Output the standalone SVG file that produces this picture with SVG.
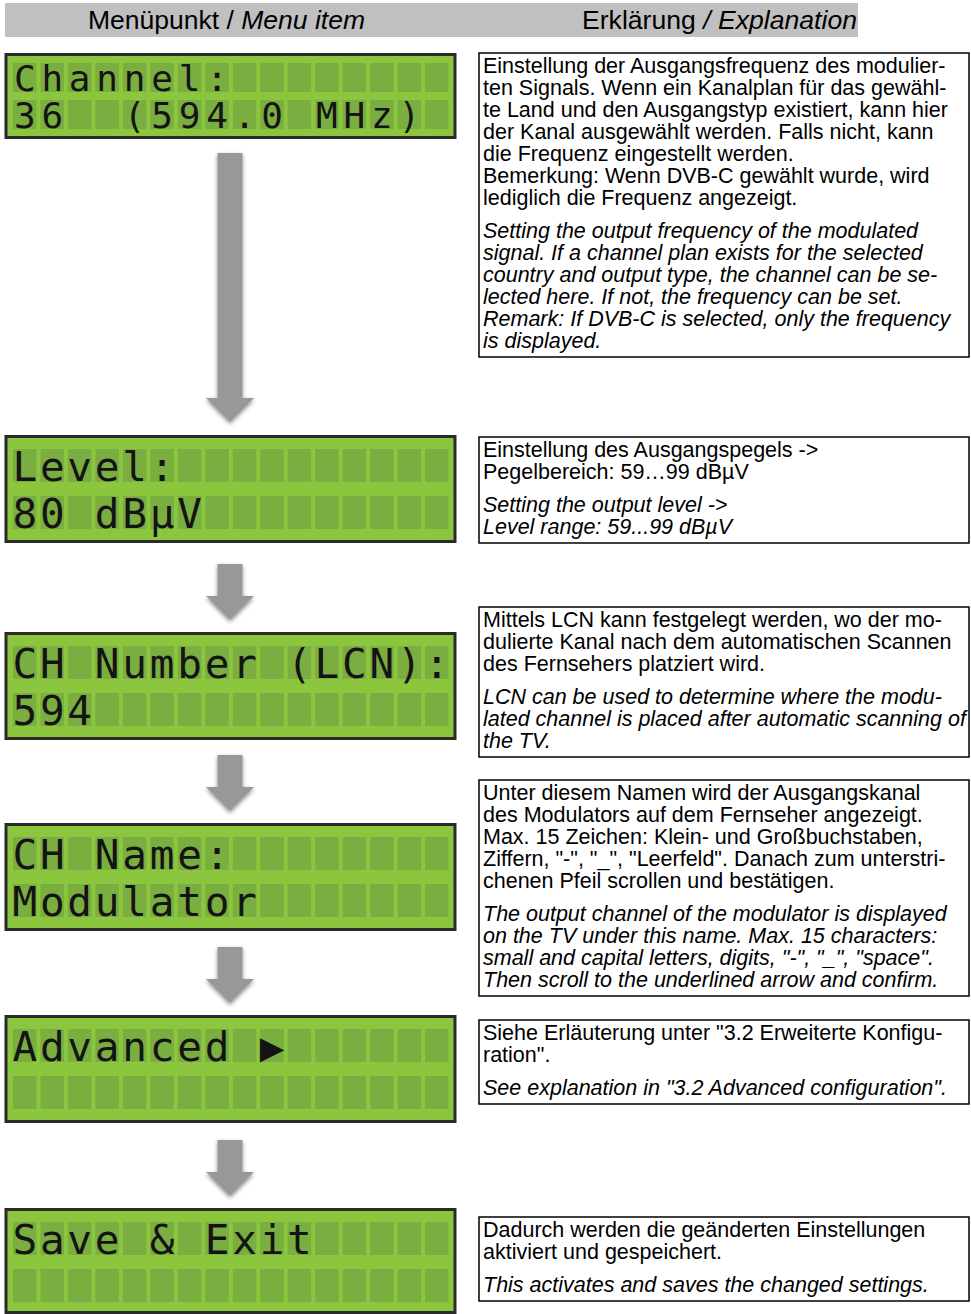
<svg xmlns="http://www.w3.org/2000/svg" xmlns:xlink="http://www.w3.org/1999/xlink" width="971" height="1314" viewBox="0 0 971 1314">
<style>
.hdr{font-family:"Liberation Sans",Arial,sans-serif;font-size:25px;fill:#000}
.t{font-family:"Liberation Sans",Arial,sans-serif;font-size:21.5px;fill:#000}
.i{font-style:italic}
.box{fill:#fff;stroke:#000;stroke-width:1.5}
.lcd{fill:#8cc63f;stroke:#2a2a2a;stroke-width:3}
.cell{fill:#7bae41}
.lt{font-family:"DejaVu Sans Mono",monospace;fill:#141414;text-anchor:middle}
.s1{font-size:36px}
.s2{font-size:41px}
.arr{fill:#989898;filter:url(#sh)}
</style>
<defs>
<filter id="sh" x="-30%" y="-10%" width="160%" height="130%">
<feGaussianBlur in="SourceAlpha" stdDeviation="2"/>
<feOffset dy="2" result="b"/>
<feComponentTransfer><feFuncA type="linear" slope="0.45"/></feComponentTransfer>
<feMerge><feMergeNode/><feMergeNode in="SourceGraphic"/></feMerge>
</filter>
<g id="row29" class="cell">
<rect x="13" width="23.5" height="29"/><rect x="40.47" width="23.5" height="29"/><rect x="67.94" width="23.5" height="29"/><rect x="95.41" width="23.5" height="29"/><rect x="122.88" width="23.5" height="29"/><rect x="150.35" width="23.5" height="29"/><rect x="177.82" width="23.5" height="29"/><rect x="205.29" width="23.5" height="29"/><rect x="232.76" width="23.5" height="29"/><rect x="260.23" width="23.5" height="29"/><rect x="287.7" width="23.5" height="29"/><rect x="315.17" width="23.5" height="29"/><rect x="342.64" width="23.5" height="29"/><rect x="370.11" width="23.5" height="29"/><rect x="397.58" width="23.5" height="29"/><rect x="425.05" width="23.5" height="29"/>
</g>
<g id="row33" class="cell">
<rect x="13" width="23.5" height="33"/><rect x="40.47" width="23.5" height="33"/><rect x="67.94" width="23.5" height="33"/><rect x="95.41" width="23.5" height="33"/><rect x="122.88" width="23.5" height="33"/><rect x="150.35" width="23.5" height="33"/><rect x="177.82" width="23.5" height="33"/><rect x="205.29" width="23.5" height="33"/><rect x="232.76" width="23.5" height="33"/><rect x="260.23" width="23.5" height="33"/><rect x="287.7" width="23.5" height="33"/><rect x="315.17" width="23.5" height="33"/><rect x="342.64" width="23.5" height="33"/><rect x="370.11" width="23.5" height="33"/><rect x="397.58" width="23.5" height="33"/><rect x="425.05" width="23.5" height="33"/>
</g>
</defs>

<g id="header">
<rect x="5" y="3" width="853" height="34" fill="#c0c0c0"/>
<text class="hdr" x="88" y="29" textLength="277" lengthAdjust="spacingAndGlyphs">Menüpunkt / <tspan class="i">Menu item</tspan></text>
<text class="hdr" x="582" y="29" textLength="275" lengthAdjust="spacingAndGlyphs">Erklärung <tspan class="i">/ Explanation</tspan></text>
</g>

<g id="connectors">
<path class="arr" d="M217.5,153H242.5V398H254L230,422L206,398H217.5Z"/>
<path class="arr" d="M217.5,564H242.5V596H254L230,620L206,596H217.5Z"/>
<path class="arr" d="M217.5,755H242.5V787H254L230,811L206,787H217.5Z"/>
<path class="arr" d="M217.5,947H242.5V979H254L230,1003L206,979H217.5Z"/>
<path class="arr" d="M217.5,1140H242.5V1172H254L230,1196L206,1172H217.5Z"/>
</g>

<g id="lcd-channel">
<rect class="lcd" x="6" y="54.5" width="449" height="83"/>
<use xlink:href="#row29" y="63"/>
<use xlink:href="#row29" y="100"/>
<text class="lt s1" y="91" xml:space="preserve" x="24.75 52.22 79.69 107.16 134.63 162.1 189.57 217.04">Channel:</text>
<text class="lt s1" y="128" xml:space="preserve" x="24.75 52.22 79.69 107.16 134.63 162.1 189.57 217.04 244.51 271.98 299.45 326.92 354.39 381.86 409.33">36  (594.0 MHz)</text>
</g>

<g id="lcd-level">
<rect class="lcd" x="6" y="436.5" width="449" height="105"/>
<use xlink:href="#row33" y="449"/>
<use xlink:href="#row33" y="496"/>
<text class="lt s2" y="481" xml:space="preserve" x="24.75 52.22 79.69 107.16 134.63 162.1">Level:</text>
<text class="lt s2" y="528" xml:space="preserve" x="24.75 52.22 79.69 107.16 134.63 162.1 189.57">80 dBµV</text>
</g>

<g id="lcd-lcn">
<rect class="lcd" x="6" y="633.5" width="449" height="105"/>
<use xlink:href="#row33" y="646"/>
<use xlink:href="#row33" y="693"/>
<text class="lt s2" y="678" xml:space="preserve" x="24.75 52.22 79.69 107.16 134.63 162.1 189.57 217.04 244.51 271.98 299.45 326.92 354.39 381.86 409.33 436.8">CH Number (LCN):</text>
<text class="lt s2" y="725" xml:space="preserve" x="24.75 52.22 79.69">594</text>
</g>

<g id="lcd-name">
<rect class="lcd" x="6" y="824.5" width="449" height="105"/>
<use xlink:href="#row33" y="837"/>
<use xlink:href="#row33" y="884"/>
<text class="lt s2" y="869" xml:space="preserve" x="24.75 52.22 79.69 107.16 134.63 162.1 189.57 217.04">CH Name:</text>
<text class="lt s2" y="916" xml:space="preserve" x="24.75 52.22 79.69 107.16 134.63 162.1 189.57 217.04 244.51">Modulator</text>
</g>

<g id="lcd-advanced">
<rect class="lcd" x="6" y="1016.5" width="449" height="105"/>
<use xlink:href="#row33" y="1029"/>
<use xlink:href="#row33" y="1076"/>
<text class="lt s2" y="1061" xml:space="preserve" x="24.75 52.22 79.69 107.16 134.63 162.1 189.57 217.04 244.51 271.98">Advanced ▶</text>
</g>

<g id="lcd-save">
<rect class="lcd" x="6" y="1209.5" width="449" height="103"/>
<use xlink:href="#row33" y="1222"/>
<use xlink:href="#row33" y="1269"/>
<text class="lt s2" y="1254" xml:space="preserve" x="24.75 52.22 79.69 107.16 134.63 162.1 189.57 217.04 244.51 271.98 299.45">Save &amp; Exit</text>
</g>

<g id="desc-channel">
<rect class="box" x="479" y="53" width="490" height="304"/>
<text class="t" x="483">
<tspan x="483" y="73">Einstellung der Ausgangsfrequenz des modulier-</tspan>
<tspan x="483" y="95">ten Signals. Wenn ein Kanalplan für das gewähl-</tspan>
<tspan x="483" y="117">te Land und den Ausgangstyp existiert, kann hier</tspan>
<tspan x="483" y="139">der Kanal ausgewählt werden. Falls nicht, kann</tspan>
<tspan x="483" y="161">die Frequenz eingestellt werden.</tspan>
<tspan x="483" y="183">Bemerkung: Wenn DVB-C gewählt wurde, wird</tspan>
<tspan x="483" y="205">lediglich die Frequenz angezeigt.</tspan>
</text>
<text class="t i" x="483">
<tspan x="483" y="238">Setting the output frequency of the modulated</tspan>
<tspan x="483" y="260">signal. If a channel plan exists for the selected</tspan>
<tspan x="483" y="282">country and output type, the channel can be se-</tspan>
<tspan x="483" y="304">lected here. If not, the frequency can be set.</tspan>
<tspan x="483" y="326">Remark: If DVB-C is selected, only the frequency</tspan>
<tspan x="483" y="348">is displayed.</tspan>
</text>
</g>

<g id="desc-level">
<rect class="box" x="479" y="437" width="490" height="106"/>
<text class="t" x="483"><tspan x="483" y="457">Einstellung des Ausgangspegels -&gt;</tspan><tspan x="483" y="479">Pegelbereich: 59…99 dBµV</tspan></text>
<text class="t i" x="483"><tspan x="483" y="512">Setting the output level -&gt;</tspan><tspan x="483" y="534">Level range: 59...99 dBµV</tspan></text>
</g>

<g id="desc-lcn">
<rect class="box" x="479" y="607" width="490" height="150"/>
<text class="t" x="483"><tspan x="483" y="627">Mittels LCN kann festgelegt werden, wo der mo-</tspan><tspan x="483" y="649">dulierte Kanal nach dem automatischen Scannen</tspan><tspan x="483" y="671">des Fernsehers platziert wird.</tspan></text>
<text class="t i" x="483"><tspan x="483" y="704">LCN can be used to determine where the modu-</tspan><tspan x="483" y="726">lated channel is placed after automatic scanning of</tspan><tspan x="483" y="748">the TV.</tspan></text>
</g>

<g id="desc-name">
<rect class="box" x="479" y="780" width="490" height="216"/>
<text class="t" x="483"><tspan x="483" y="800">Unter diesem Namen wird der Ausgangskanal</tspan><tspan x="483" y="822">des Modulators auf dem Fernseher angezeigt.</tspan><tspan x="483" y="844">Max. 15 Zeichen: Klein- und Großbuchstaben,</tspan><tspan x="483" y="866">Ziffern, "-", "_", "Leerfeld". Danach zum unterstri-</tspan><tspan x="483" y="888">chenen Pfeil scrollen und bestätigen.</tspan></text>
<text class="t i" x="483"><tspan x="483" y="921">The output channel of the modulator is displayed</tspan><tspan x="483" y="943">on the TV under this name. Max. 15 characters:</tspan><tspan x="483" y="965">small and capital letters, digits, "-", "_", "space".</tspan><tspan x="483" y="987">Then scroll to the underlined arrow and confirm.</tspan></text>
</g>

<g id="desc-advanced">
<rect class="box" x="479" y="1020" width="490" height="84"/>
<text class="t" x="483"><tspan x="483" y="1040">Siehe Erläuterung unter "3.2 Erweiterte Konfigu-</tspan><tspan x="483" y="1062">ration".</tspan></text>
<text class="t i" x="483"><tspan x="483" y="1095">See explanation in "3.2 Advanced configuration".</tspan></text>
</g>

<g id="desc-save">
<rect class="box" x="479" y="1217" width="490" height="84"/>
<text class="t" x="483"><tspan x="483" y="1237">Dadurch werden die geänderten Einstellungen</tspan><tspan x="483" y="1259">aktiviert und gespeichert.</tspan></text>
<text class="t i" x="483"><tspan x="483" y="1292">This activates and saves the changed settings.</tspan></text>
</g>
</svg>
